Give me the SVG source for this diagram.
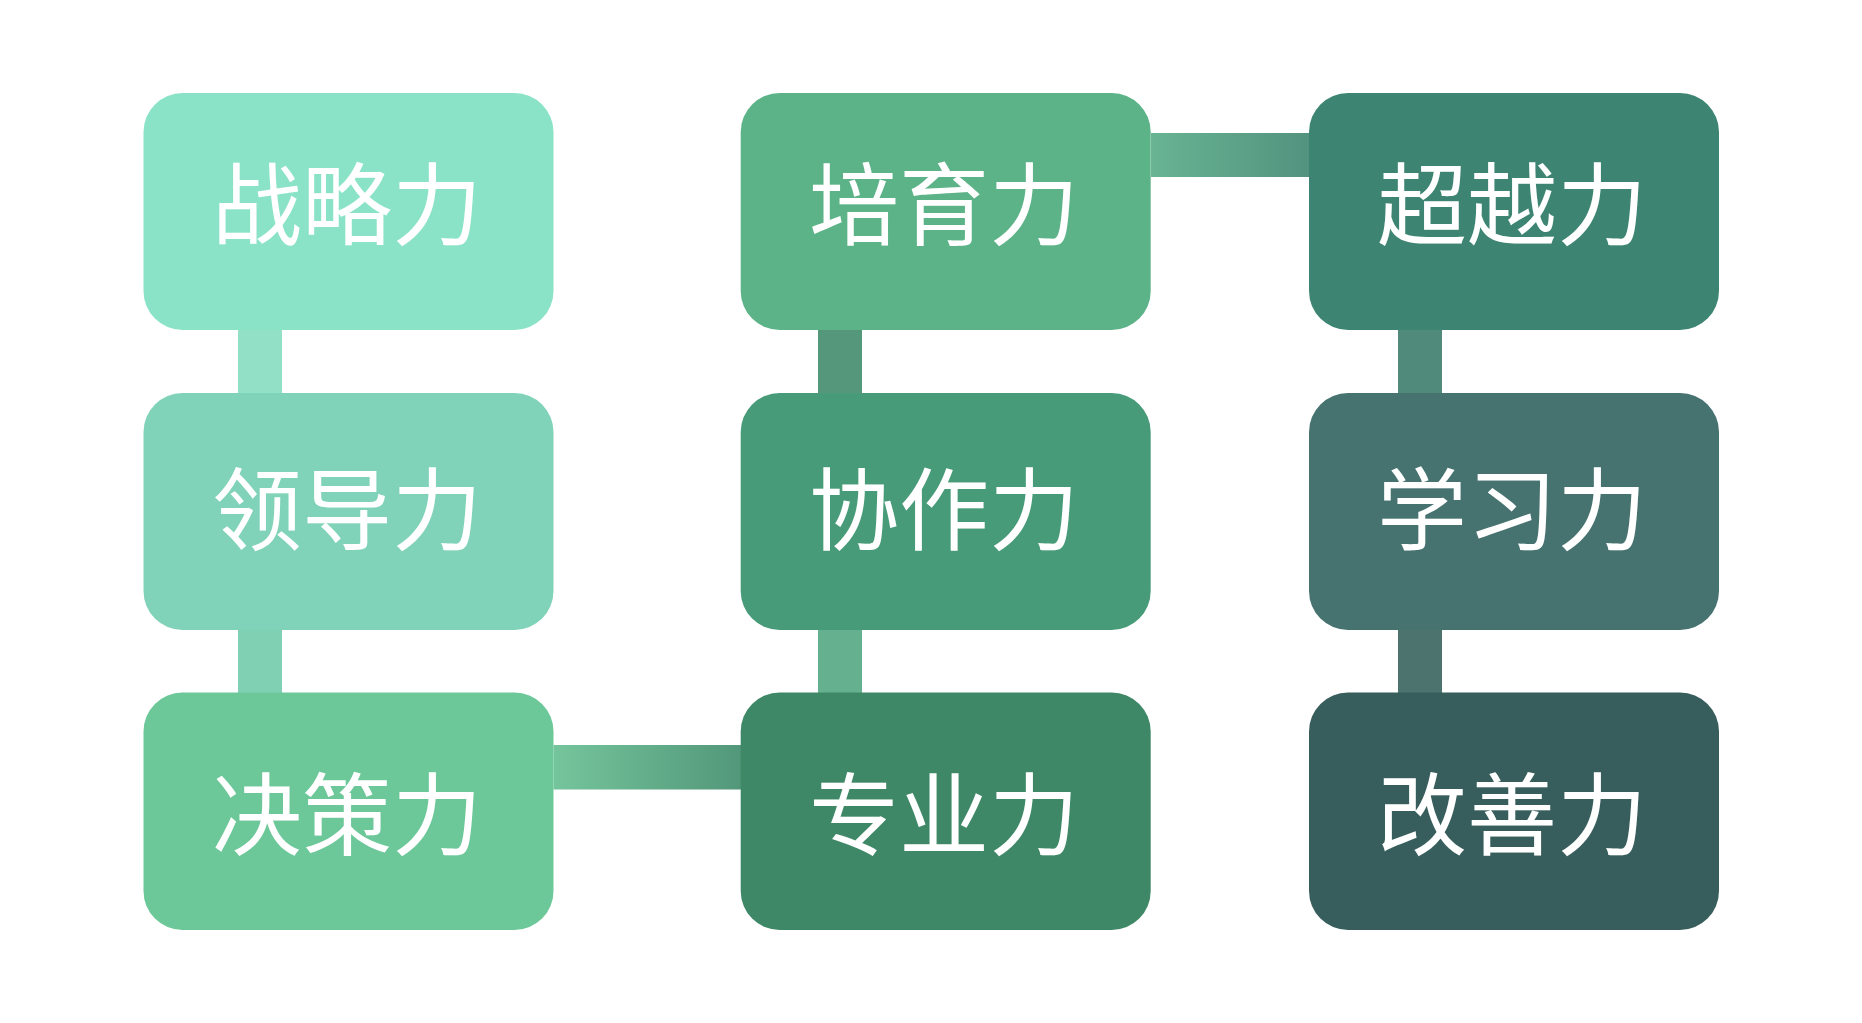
<svg xmlns="http://www.w3.org/2000/svg" width="1862" height="1023" viewBox="0 0 1862 1023">
  <defs>
    <linearGradient id="gTop" x1="0" y1="0" x2="1" y2="0">
      <stop offset="0" stop-color="#68B493"/>
      <stop offset="1" stop-color="#52937F"/>
    </linearGradient>
    <linearGradient id="gBot" x1="0" y1="0" x2="1" y2="0">
      <stop offset="0" stop-color="#75C59C"/>
      <stop offset="1" stop-color="#52977A"/>
    </linearGradient>
    <style>
      .box { stroke: none; }
      .label { font-family: "Noto Sans CJK SC", "Noto Sans", sans-serif; font-size: 90px; fill: #FFFFFF; text-anchor: middle; font-weight: 400; }
    </style>
  </defs>
  <rect x="0" y="0" width="1862" height="1023" fill="#FFFFFF"/>
  <g id="connectors">
    <rect x="238" y="320" width="44" height="83" fill="#92E0C5"/>
    <rect x="238" y="620" width="44" height="82" fill="#80D0B3"/>
    <rect x="818" y="320" width="44" height="83" fill="#54977A"/>
    <rect x="818" y="620" width="44" height="82" fill="#65B08E"/>
    <rect x="1398" y="320" width="44" height="83" fill="#4F8A7B"/>
    <rect x="1398" y="620" width="44" height="82" fill="#4D736F"/>
    <rect x="1151" y="133" width="158" height="44" fill="url(#gTop)"/>
    <rect x="553.5" y="745" width="187.5" height="44.5" fill="url(#gBot)"/>
  </g>
  <g id="node-zhanlue">
    <rect class="box" x="143.5" y="93" width="410" height="237" rx="39" fill="#8BE3C7"/>
    <text class="label" x="347" y="238">战略力</text>
  </g>
  <g id="node-lingdao">
    <rect class="box" x="143.5" y="393" width="410" height="237" rx="39" fill="#80D3B8"/>
    <text class="label" x="347" y="543">领导力</text>
  </g>
  <g id="node-juece">
    <rect class="box" x="143.5" y="692.5" width="410" height="237.5" rx="39" fill="#6CC799"/>
    <text class="label" x="347" y="848">决策力</text>
  </g>
  <g id="node-peiyu">
    <rect class="box" x="740.7" y="93" width="410" height="237" rx="39" fill="#5CB388"/>
    <text class="label" x="944" y="238">培育力</text>
  </g>
  <g id="node-xiezuo">
    <rect class="box" x="740.7" y="393" width="410" height="237" rx="39" fill="#479B79"/>
    <text class="label" x="944" y="543">协作力</text>
  </g>
  <g id="node-zhuanye">
    <rect class="box" x="740.7" y="692.5" width="410" height="237.5" rx="39" fill="#3E8867"/>
    <text class="label" x="944" y="848">专业力</text>
  </g>
  <g id="node-chaoyue">
    <rect class="box" x="1309" y="93" width="410" height="237" rx="39" fill="#3D8572"/>
    <text class="label" x="1512" y="238">超越力</text>
  </g>
  <g id="node-xuexi">
    <rect class="box" x="1309" y="393" width="410" height="237" rx="39" fill="#467270"/>
    <text class="label" x="1512" y="543">学习力</text>
  </g>
  <g id="node-gaishan">
    <rect class="box" x="1309" y="692.5" width="410" height="237.5" rx="39" fill="#375E5C"/>
    <text class="label" x="1512" y="848">改善力</text>
  </g>
</svg>
